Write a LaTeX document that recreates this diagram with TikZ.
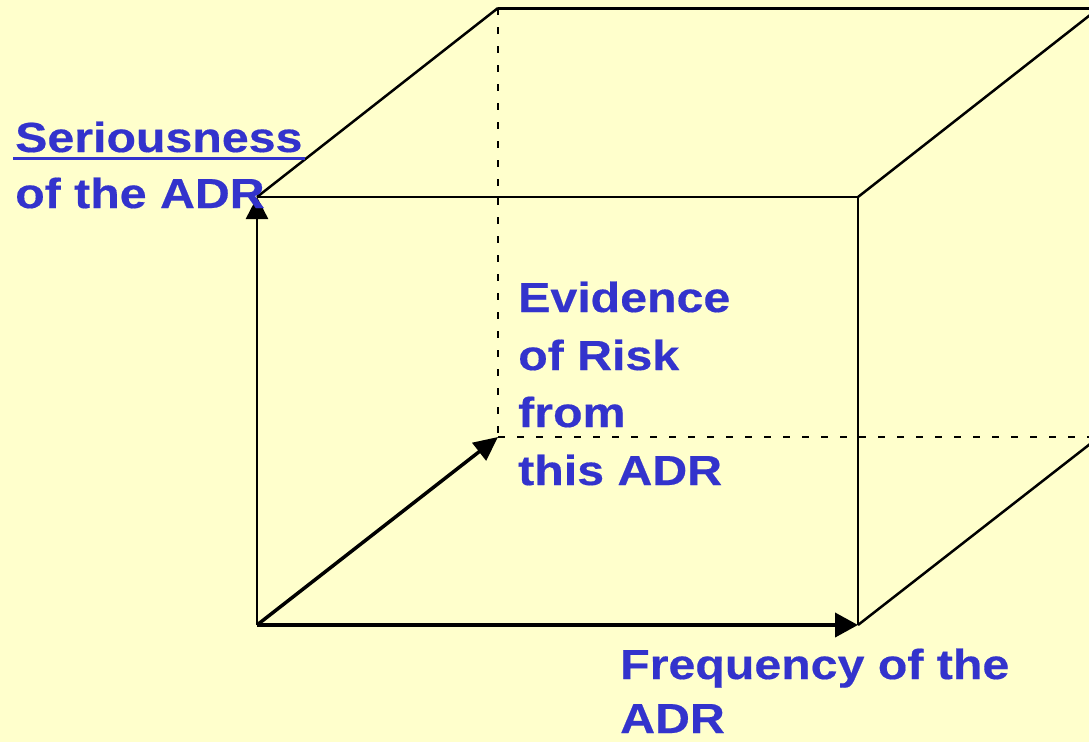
\documentclass[tikz,border=0pt]{standalone}
\usepackage{fontspec}
\newfontfamily\lab{Liberation Sans}[FakeStretch=1.15,FakeBold=0.4]
\usetikzlibrary{arrows.meta}
\definecolor{paper}{HTML}{FFFFCC}
\definecolor{ink}{HTML}{3333CC}
\begin{document}
\begin{tikzpicture}[x=1pt,y=-1pt,
  edge/.style={line width=2.5pt},
  hidden/.style={line width=2.5pt, dash pattern=on 7pt off 12pt},
  tip/.style={-{Triangle[length=22pt,width=22pt]}},
  lbl/.style={anchor=base west, inner sep=0pt, text=ink,
    font=\lab\bfseries\fontsize{42}{57}\selectfont}]
\fill[paper] (0,0) rectangle (1089,742);
\clip (0,0) rectangle (1089,742);

% cube corners: front face, then back face
\coordinate (O) at (257,625);
\coordinate (A) at (257,197);
\coordinate (B) at (858,197);
\coordinate (C) at (858,625);
\coordinate (D) at (498,437);
\coordinate (E) at (498,8);
\coordinate (F) at (1099,8);
\coordinate (G) at (1099,437);

% hidden edges
\draw[hidden] (E) -- (D);
\draw[hidden] (D) -- (G);

% visible edges
\draw[edge] (A) -- (B) -- (C);
\draw[edge] (A) -- (E);
\draw[line width=3pt] (E) -- (F);
\draw[edge] (B) -- (F);
\draw[edge] (C) -- (G);
\draw[edge] (F) -- (G);

% the three axes
\draw[edge, tip] (O) -- (A);
\draw[line width=4pt, -{Triangle[length=23pt,width=24pt]}] (O) -- (C);
\draw[line width=3.5pt, -{Triangle[length=24pt,width=22pt]}] (O) -- (D);

% axis labels
\node[lbl] (ser) at (15,152) {Seriousness};
\draw[ink, line width=3pt] ([yshift=-6pt,xshift=-2pt]ser.base west) -- ([yshift=-6pt,xshift=2pt]ser.base east);
\node[lbl] (ser2) at (15,208) {of the ADR};

\node[lbl] (ev1) at (518,312) {Evidence};
\node[lbl] (ev2) at (518,370) {of Risk};
\node[lbl] (ev3) at (518,427) {from};
\node[lbl] (ev4) at (518,485) {this ADR};

\node[lbl] (fr1) at (620,679) {Frequency of the};
\node[lbl] (fr2) at (620,733) {ADR};
\end{tikzpicture}
\end{document}
